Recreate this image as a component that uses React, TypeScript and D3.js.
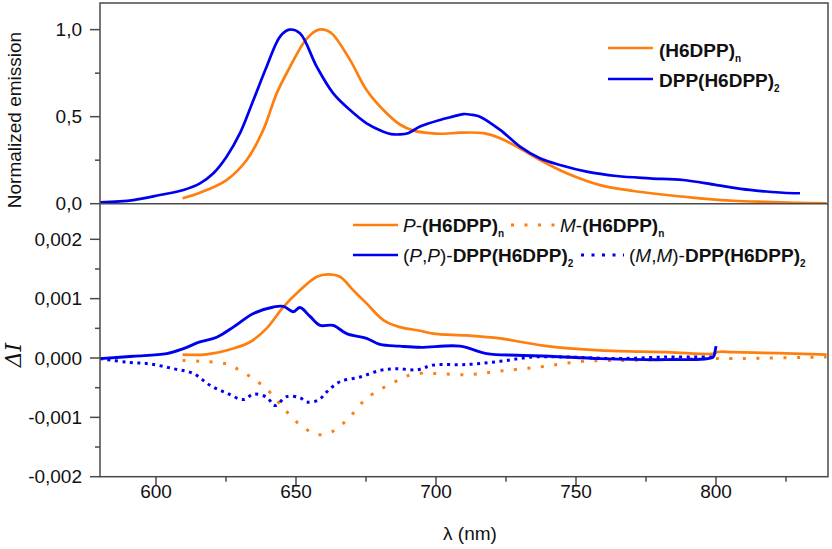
import React from 'react';
import * as d3 from 'd3';

// ---------- data ----------
const xTicks = [600, 650, 700, 750, 800];
const xMinorTicks = [625, 675, 725, 775, 825];
const topTicks = [0, 0.5, 1.0];
const topTickLabels = ['0,0', '0,5', '1,0'];
const topMinorTicks = [0.25, 0.75];
const botTicks = [-0.002, -0.001, 0, 0.001, 0.002];
const botTickLabels = ['-0,002', '-0,001', '0,000', '0,001', '0,002'];
const botMinorTicks = [-0.0015, -0.0005, 0.0005, 0.0015];

// Normalized emission, (H6DPP)n
const polyWl = [609.5, 615.7, 625.2, 632.4, 638.3, 643.1, 647.9, 652.6, 655.5, 658.2, 661, 663.3, 669.3, 675.2, 681.2, 687.1, 692, 697.9, 703, 708.6, 716.9, 722.9, 728.8, 737.1, 746.7, 758.6, 770.5, 782.4, 794.3, 806.2, 818.1, 829, 839.5];
const polyVal = [0.031, 0.063, 0.136, 0.251, 0.424, 0.634, 0.787, 0.922, 0.975, 1.0, 0.995, 0.97, 0.826, 0.653, 0.538, 0.455, 0.42, 0.405, 0.402, 0.408, 0.405, 0.376, 0.328, 0.251, 0.175, 0.107, 0.073, 0.05, 0.031, 0.017, 0.01, 0.005, 0.002];

// Normalized emission, DPP(H6DPP)2
const trimerWl = [580, 591.9, 601.4, 609.8, 615.7, 620.5, 625.2, 630, 634.8, 639.5, 644.3, 647.6, 651.4, 657.4, 663.3, 669.3, 675.2, 681.2, 684, 687.1, 690, 694.3, 701.4, 706, 709.8, 713, 715.7, 722.9, 730, 737.1, 744.3, 753.8, 764.5, 776.4, 788.3, 800.2, 812.1, 818, 824, 830];
const trimerVal = [0.008, 0.021, 0.05, 0.079, 0.117, 0.175, 0.27, 0.405, 0.596, 0.787, 0.96, 1.0, 0.979, 0.787, 0.634, 0.538, 0.462, 0.414, 0.4, 0.398, 0.405, 0.443, 0.481, 0.5, 0.515, 0.51, 0.5, 0.424, 0.328, 0.261, 0.222, 0.184, 0.159, 0.146, 0.136, 0.107, 0.079, 0.07, 0.063, 0.06];

// ΔI, P-(H6DPP)n
const pPolyWl = [609.5, 618.1, 627.6, 633.6, 639.5, 645.5, 651.4, 657.4, 661.5, 665.7, 670.5, 675.2, 681.2, 687.1, 694.3, 699, 711, 722.9, 738.3, 758.6, 782.4, 799.6, 800.5, 806.2, 839.5];
const pPolyVal = [0.000057, 0.0000625, 0.00016, 0.00027, 0.0005, 0.00086, 0.00114, 0.00137, 0.00141, 0.00137, 0.00114, 0.00092, 0.00064, 0.00052, 0.00046, 0.00041, 0.00038, 0.00033, 0.00021, 0.00013, 0.0001, 0.000074, 0.0001, 0.0001, 0.000057];

// ΔI, M-(H6DPP)n
const mPolyWl = [609.5, 615.7, 625.2, 630, 634.8, 639.5, 643.1, 645.7, 649.3, 652.8, 657.2, 662.5, 666.9, 670.4, 673.9, 677.6, 687.1, 692, 699, 711, 722.9, 737.1, 752.6, 770.5, 794.3, 806.2, 839.5];
const mPolyVal = [-0.00004, -0.000056, -0.0001, -0.00021, -0.00035, -0.00052, -0.00071, -0.00085, -0.00104, -0.00117, -0.00129, -0.00125, -0.0011, -0.00093, -0.00074, -0.0006, -0.00036, -0.00027, -0.00026, -0.00028, -0.00022, -0.00015, -0.000056, -0.00004, -0.00001, -0.00001, 0.000017];

// ΔI, (P,P)-DPP(H6DPP)2
const ppWl = [580, 591.9, 603.8, 609.8, 615.7, 621.7, 627.6, 634.8, 642, 645.5, 649.1, 651.4, 655, 658.6, 663.3, 668.1, 675.2, 680, 687.1, 694.3, 708.6, 718.1, 728.8, 740.7, 758.6, 782.4, 799, 799.6, 800];
const ppVal = [-0.00001, 0.00003, 0.000074, 0.00016, 0.00027, 0.00035, 0.00052, 0.00075, 0.00086, 0.00087, 0.00078, 0.00085, 0.0007, 0.00055, 0.00055, 0.00041, 0.00033, 0.00023, 0.0002, 0.00018, 0.0002, 0.000074, 0.000046, 0.00003, -0.00001, -0.000027, 0.000017, 0.0001, 0.0002];

// ΔI, (M,M)-DPP(H6DPP)2
const mmWl = [580, 589.5, 597.9, 606.2, 613.3, 619.3, 625.2, 631.2, 634.8, 639.5, 642.5, 646.7, 651.4, 653.8, 658, 661, 665.7, 672.9, 680, 686, 693.1, 699, 711, 722.9, 734.8, 746.7, 764.5, 782.4, 799];
const mmVal = [-0.00001, -0.00007, -0.0001, -0.00018, -0.00026, -0.00046, -0.00059, -0.0007, -0.00061, -0.00066, -0.0008, -0.00065, -0.00067, -0.00074, -0.00071, -0.00057, -0.0004, -0.00032, -0.00021, -0.00018, -0.0002, -0.00012, -0.00011, -0.000056, 0.000017, 0.000017, -0.00001, 0.000017, 0.000017];

const ORANGE = '#FF7F0E';
const BLUE = '#0000F0';
const AXIS = '#4a4a4a';
const FONT = 'Liberation Sans, Arial, sans-serif';

export default function App() {
  const left = 100, right = 828, top = 3, mid = 203.7, bottom = 476.7;
  const x = d3.scaleLinear().domain([580, 840]).range([left, right]);
  const yTop = d3.scaleLinear().domain([0, 1.153]).range([mid, top]);
  const yBot = d3.scaleLinear().domain([-0.002, 0.0026]).range([bottom, mid]);

  const mk = (ys: d3.ScaleLinear<number, number>, wl: number[], v: number[]) =>
    d3.line<number>().x((_, i) => x(wl[i])).y((d) => ys(d)).curve(d3.curveCatmullRom.alpha(0.5))(v) || '';

  const fs = 19;
  const legFs = 19;

  return (
    <svg width={832} height={549} style={{ position: 'absolute', left: 0, top: 0, background: '#fff' }} fontFamily={FONT}>
      <defs>
        <clipPath id="cTop"><rect x={left} y={top} width={right - left} height={mid - top} /></clipPath>
        <clipPath id="cBot"><rect x={left} y={mid} width={right - left} height={bottom - mid} /></clipPath>
      </defs>

      {/* curves */}
      <g clipPath="url(#cTop)" fill="none" strokeWidth={2.7} strokeLinejoin="round">
        <path d={mk(yTop, polyWl, polyVal)} stroke={ORANGE} />
        <path d={mk(yTop, trimerWl, trimerVal)} stroke={BLUE} />
      </g>
      <g clipPath="url(#cBot)" fill="none" strokeWidth={2.7} strokeLinejoin="round">
        <path d={mk(yBot, pPolyWl, pPolyVal)} stroke={ORANGE} />
        <path d={mk(yBot, mPolyWl, mPolyVal)} stroke={ORANGE} strokeDasharray="3 10.5" strokeWidth={3} />
        <path d={mk(yBot, ppWl, ppVal)} stroke={BLUE} strokeWidth={2.9} />
        <path d={mk(yBot, mmWl, mmVal)} stroke={BLUE} strokeDasharray="3 4.5" strokeWidth={3} />
      </g>

      {/* frame */}
      <rect x={left} y={top} width={right - left} height={bottom - top} fill="none" stroke={AXIS} strokeWidth={1.5} />
      <line x1={left} x2={right} y1={mid} y2={mid} stroke={AXIS} strokeWidth={1.6} />

      {/* top y ticks */}
      {topTicks.map((t, i) => (
        <g key={'tt' + i}>
          <line x1={left - 10} x2={left} y1={yTop(t)} y2={yTop(t)} stroke={AXIS} strokeWidth={1.5} />
          <text x={82} y={yTop(t) + 6.5} textAnchor="end" fontSize={fs} fill="#111">{topTickLabels[i]}</text>
        </g>
      ))}
      {topMinorTicks.map((t, i) => (
        <line key={'tm' + i} x1={left - 5} x2={left} y1={yTop(t)} y2={yTop(t)} stroke={AXIS} strokeWidth={1.5} />
      ))}

      {/* bottom y ticks */}
      {botTicks.map((t, i) => (
        <g key={'bt' + i}>
          <line x1={left - 10} x2={left} y1={yBot(t)} y2={yBot(t)} stroke={AXIS} strokeWidth={1.5} />
          <text x={82} y={yBot(t) + 6.5} textAnchor="end" fontSize={fs} fill="#111">{botTickLabels[i]}</text>
        </g>
      ))}
      {botMinorTicks.map((t, i) => (
        <line key={'bm' + i} x1={left - 5} x2={left} y1={yBot(t)} y2={yBot(t)} stroke={AXIS} strokeWidth={1.5} />
      ))}

      {/* x ticks */}
      {xTicks.map((t) => (
        <g key={'xt' + t}>
          <line x1={x(t)} x2={x(t)} y1={bottom} y2={bottom + 9} stroke={AXIS} strokeWidth={1.5} />
          <text x={x(t)} y={498} textAnchor="middle" fontSize={fs} fill="#111">{t}</text>
        </g>
      ))}
      {xMinorTicks.map((t) => (
        <line key={'xm' + t} x1={x(t)} x2={x(t)} y1={bottom} y2={bottom + 5} stroke={AXIS} strokeWidth={1.5} />
      ))}

      {/* axis titles */}
      <text x={470} y={540} textAnchor="middle" fontSize={fs} fill="#111">λ (nm)</text>
      <text transform="translate(21,120) rotate(-90)" textAnchor="middle" fontSize={fs} fill="#111">Normalized emission</text>
      <text transform="translate(21,355) rotate(-90)" textAnchor="middle" fontSize={22} fill="#111" fontFamily="DejaVu Serif, Liberation Serif, serif" fontStyle="italic">ΔI</text>

      {/* top legend */}
      <line x1={608} x2={653} y1={48} y2={48} stroke={ORANGE} strokeWidth={2.7} />
      <text x={659} y={57} fontSize={legFs} fontWeight="bold" fill="#111">(H6DPP)<tspan fontSize={10} dy={5}>n</tspan></text>
      <line x1={608} x2={653} y1={79} y2={79} stroke={BLUE} strokeWidth={2.7} />
      <text x={659} y={87} fontSize={legFs} fontWeight="bold" fill="#111">DPP(H6DPP)<tspan fontSize={10} dy={5}>2</tspan></text>

      {/* bottom legend */}
      <line x1={353} x2={398} y1={225} y2={225} stroke={ORANGE} strokeWidth={2.7} />
      <text x={403} y={232} fontSize={legFs} fill="#111">
        <tspan fontStyle="italic">P</tspan>-<tspan fontWeight="bold">(H6DPP)</tspan><tspan fontSize={10} fontWeight="bold" dy={5}>n</tspan>
      </text>
      <line x1={511} x2={556} y1={225} y2={225} stroke={ORANGE} strokeWidth={3} strokeDasharray="3 10.5" />
      <text x={560} y={232} fontSize={legFs} fill="#111">
        <tspan fontStyle="italic">M</tspan>-<tspan fontWeight="bold">(H6DPP)</tspan><tspan fontSize={10} fontWeight="bold" dy={5}>n</tspan>
      </text>

      <line x1={353} x2={398} y1={255} y2={255} stroke={BLUE} strokeWidth={2.7} />
      <text x={403} y={262} fontSize={legFs} fill="#111">
        (<tspan fontStyle="italic">P</tspan>,<tspan fontStyle="italic">P</tspan>)-<tspan fontWeight="bold">DPP(H6DPP)</tspan><tspan fontSize={10} fontWeight="bold" dy={5}>2</tspan>
      </text>
      <line x1={581} x2={624} y1={255} y2={255} stroke={BLUE} strokeWidth={3} strokeDasharray="3 7.5" />
      <text x={629} y={262} fontSize={legFs} fill="#111">
        (<tspan fontStyle="italic">M</tspan>,<tspan fontStyle="italic">M</tspan>)-<tspan fontWeight="bold">DPP(H6DPP)</tspan><tspan fontSize={10} fontWeight="bold" dy={5}>2</tspan>
      </text>
    </svg>
  );
}
